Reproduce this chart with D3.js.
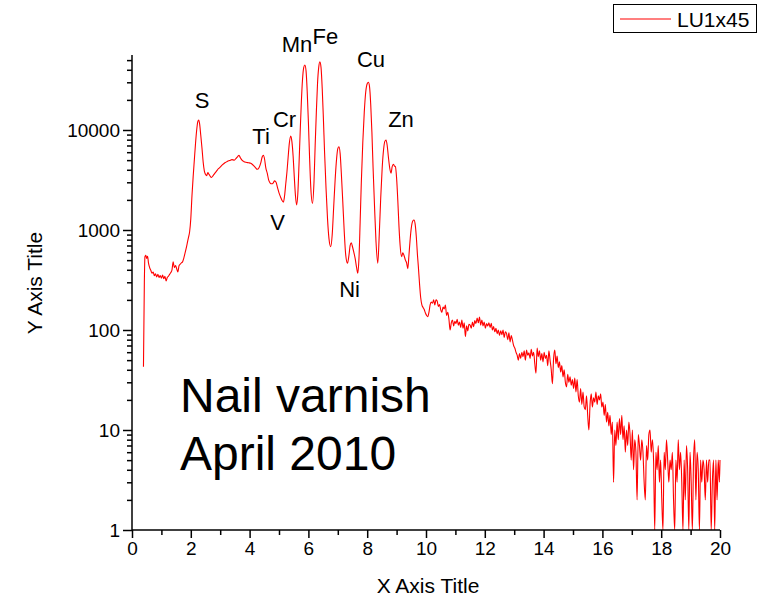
<!DOCTYPE html>
<html>
<head>
<meta charset="utf-8">
<script src="https://cdn.jsdelivr.net/npm/d3@7"></script>
<style>
    body { margin: 0; background: #fff; }
    text { font-family: "Liberation Sans", Arial, sans-serif; fill: #000; }
</style>
</head>
<body>
<div id="chart"></div>
<script>
// spectrum, [energy keV, counts]
const lowBand = [
    [0.39, 43], [0.42, 300], [0.44, 540], [0.47, 560], [0.50, 520], [0.53, 545], [0.56, 470],
    [0.60, 420], [0.64, 395], [0.68, 370], [0.72, 380], [0.76, 350], [0.80, 365], [0.84, 340],
    [0.88, 360], [0.92, 335], [0.96, 350], [1.00, 330], [1.04, 355], [1.08, 325], [1.12, 345],
    [1.16, 310], [1.20, 335], [1.24, 345], [1.28, 360], [1.32, 375], [1.36, 400], [1.40, 480],
    [1.44, 420], [1.48, 440], [1.52, 410], [1.56, 380], [1.60, 440], [1.64, 455], [1.68, 470],
    [1.72, 480], [1.76, 520], [1.80, 580], [1.84, 650], [1.88, 740], [1.92, 840], [1.96, 960]
];

const peakBand = [
    [2.00, 1300], [2.04, 2200], [2.08, 3400], [2.12, 5000], [2.16, 7300], [2.20, 10000],
    [2.24, 12200], [2.27, 12600], [2.30, 11500], [2.34, 8800], [2.38, 6600], [2.42, 4800],
    [2.46, 3900], [2.50, 3600], [2.54, 3500], [2.58, 3750], [2.62, 3600], [2.66, 3450],
    [2.70, 3350], [2.76, 3500], [2.82, 3700], [2.88, 3900], [2.94, 4100], [3.00, 4250],
    [3.08, 4500], [3.16, 4700], [3.24, 4850], [3.32, 4950], [3.40, 5050], [3.48, 5000],
    [3.54, 5200], [3.60, 5450], [3.64, 5600], [3.68, 5300], [3.74, 5000], [3.80, 4850],
    [3.88, 4750], [3.96, 4700], [4.04, 4650], [4.12, 4450], [4.20, 4200], [4.26, 4050],
    [4.32, 4200], [4.38, 4700], [4.43, 5400], [4.47, 5600], [4.51, 5100], [4.55, 4200],
    [4.60, 3700], [4.65, 3150], [4.70, 2950], [4.75, 2900], [4.80, 2950], [4.85, 3100],
    [4.90, 3000], [4.95, 2650], [5.00, 2350], [5.05, 2150], [5.10, 1980], [5.15, 1900],
    [5.19, 2200], [5.23, 2900], [5.27, 3800], [5.31, 5300], [5.35, 7300], [5.40, 8700],
    [5.44, 7600], [5.48, 5500], [5.52, 3400], [5.56, 2200], [5.60, 1780], [5.64, 2300],
    [5.68, 4500], [5.72, 9500], [5.76, 19000], [5.80, 32000], [5.84, 42000], [5.88, 44700],
    [5.92, 39000], [5.96, 24000], [6.00, 12000], [6.04, 5300], [6.08, 2700], [6.14, 1850],
    [6.19, 3000], [6.23, 7000], [6.27, 15000], [6.31, 29000], [6.35, 42000], [6.39, 48000],
    [6.43, 42000], [6.47, 26000], [6.51, 13000], [6.55, 6000], [6.60, 2600], [6.65, 1300],
    [6.70, 820], [6.76, 680], [6.81, 900], [6.86, 1700], [6.91, 3200], [6.96, 5200],
    [7.00, 6500], [7.04, 6800], [7.08, 5800], [7.12, 3700], [7.17, 1900], [7.22, 950],
    [7.27, 560], [7.33, 465], [7.38, 560], [7.42, 700], [7.46, 745], [7.50, 680],
    [7.55, 590], [7.59, 520], [7.64, 420], [7.68, 370], [7.72, 520], [7.76, 1200],
    [7.80, 3000], [7.85, 7500], [7.90, 15000], [7.95, 24000], [8.00, 29000], [8.04, 30000],
    [8.08, 27000], [8.12, 18000], [8.16, 9500], [8.20, 4200], [8.25, 1700], [8.30, 760],
    [8.36, 465], [8.41, 900], [8.46, 2100], [8.51, 4200], [8.56, 6500], [8.60, 7700],
    [8.64, 7940], [8.68, 7000], [8.72, 5400], [8.77, 4100], [8.81, 3700], [8.85, 4300],
    [8.89, 4550], [8.93, 4350], [8.96, 4300], [9.00, 3300], [9.04, 2000], [9.08, 1100],
    [9.12, 700], [9.17, 540], [9.21, 590], [9.25, 560], [9.30, 500], [9.34, 470],
    [9.38, 410], [9.42, 560], [9.46, 800], [9.50, 1050], [9.55, 1230], [9.59, 1260],
    [9.63, 1150], [9.67, 860], [9.71, 560], [9.74, 430], [9.78, 290], [9.82, 210],
    [9.86, 178], [9.90, 168], [9.94, 160], [9.98, 148], [10.02, 140], [10.06, 136],
    [10.10, 150], [10.14, 178], [10.18, 190], [10.22, 185], [10.26, 200], [10.30, 178],
    [10.34, 200]
];

const highBand = [
    [10.38, 195], [10.42, 172], [10.46, 180], [10.50, 160], [10.54, 150], [10.58, 170],
    [10.62, 162], [10.66, 178], [10.70, 140], [10.74, 150], [10.78, 128], [10.82, 100],
    [10.86, 118], [10.90, 126], [10.94, 110], [10.98, 122], [11.02, 116], [11.06, 128],
    [11.10, 112], [11.14, 120], [11.18, 106], [11.22, 126], [11.26, 104], [11.30, 118],
    [11.34, 86], [11.38, 110], [11.42, 98], [11.46, 114], [11.50, 112], [11.54, 104],
    [11.58, 120], [11.62, 108], [11.66, 124], [11.70, 116], [11.74, 132], [11.78, 118],
    [11.82, 135], [11.86, 112], [11.90, 126], [11.94, 110], [11.98, 120], [12.02, 104],
    [12.06, 116], [12.10, 110], [12.14, 118], [12.18, 106], [12.22, 117], [12.26, 100],
    [12.30, 108], [12.34, 96], [12.38, 104], [12.42, 92], [12.46, 100], [12.50, 88],
    [12.54, 98], [12.58, 90], [12.62, 100], [12.66, 84], [12.70, 96], [12.74, 92],
    [12.78, 80], [12.82, 94], [12.86, 76], [12.90, 88], [12.94, 79], [12.98, 70],
    [13.02, 66], [13.06, 60], [13.10, 56], [13.14, 50], [13.18, 58], [13.22, 52],
    [13.26, 60], [13.30, 54], [13.34, 62], [13.38, 50], [13.42, 63], [13.46, 56],
    [13.50, 59], [13.54, 52], [13.58, 64], [13.62, 55], [13.66, 60], [13.70, 46],
    [13.74, 37], [13.78, 66], [13.82, 54], [13.86, 62], [13.90, 50], [13.94, 58],
    [13.98, 48], [14.02, 60], [14.06, 52], [14.10, 56], [14.14, 44], [14.18, 62],
    [14.22, 50], [14.26, 40], [14.30, 29], [14.34, 52], [14.38, 63], [14.42, 46],
    [14.46, 55], [14.50, 42], [14.54, 48], [14.58, 38], [14.62, 44], [14.66, 34],
    [14.70, 40], [14.74, 30], [14.78, 27], [14.82, 36], [14.86, 30], [14.90, 34],
    [14.94, 28], [14.98, 32], [15.02, 26], [15.06, 33], [15.10, 24], [15.14, 32],
    [15.18, 22], [15.22, 19], [15.26, 26], [15.30, 18], [15.34, 24], [15.38, 17],
    [15.42, 16], [15.46, 22], [15.50, 14], [15.54, 10], [15.58, 18], [15.62, 23],
    [15.66, 17], [15.70, 21], [15.74, 19], [15.78, 24], [15.82, 18], [15.86, 22],
    [15.90, 20], [15.94, 23], [15.98, 17], [16.02, 19], [16.06, 14], [16.10, 18],
    [16.14, 12], [16.18, 15], [16.22, 11], [16.26, 14], [16.30, 9], [16.34, 12],
    [16.38, 3], [16.42, 10], [16.46, 7], [16.50, 12], [16.54, 8], [16.58, 13],
    [16.62, 9], [16.66, 14], [16.70, 8], [16.74, 11], [16.78, 6], [16.82, 10],
    [16.86, 7], [16.90, 12], [16.94, 9], [16.98, 5], [17.02, 10], [17.06, 4],
    [17.10, 8], [17.14, 6], [17.18, 2], [17.22, 9], [17.26, 7], [17.30, 5],
    [17.34, 8], [17.38, 6], [17.42, 3], [17.46, 2], [17.50, 7], [17.54, 5],
    [17.58, 9], [17.62, 10], [17.66, 6], [17.70, 8], [17.74, 5], [17.78, 1]
];

const tailBand = [
    [17.82, 6], [17.86, 4], [17.90, 7], [17.94, 3], [17.98, 5], [18.02, 2], [18.06, 1],
    [18.10, 6], [18.14, 4], [18.18, 8], [18.22, 5], [18.26, 3], [18.30, 5], [18.34, 4],
    [18.38, 6], [18.42, 2], [18.46, 1], [18.50, 5], [18.54, 3], [18.58, 8], [18.62, 4],
    [18.66, 6], [18.70, 3], [18.74, 1], [18.78, 5], [18.82, 2], [18.86, 7], [18.90, 4],
    [18.94, 1], [18.98, 6], [19.02, 3], [19.06, 1], [19.10, 5], [19.14, 8], [19.18, 2],
    [19.22, 6], [19.26, 4], [19.30, 1], [19.34, 5], [19.38, 3], [19.42, 5], [19.46, 4],
    [19.50, 2], [19.54, 5], [19.58, 3], [19.62, 5], [19.66, 5], [19.70, 1], [19.74, 3],
    [19.78, 5], [19.82, 1], [19.86, 5], [19.90, 2], [19.94, 5], [19.98, 3], [20.00, 5]
];

const xTicks = [0, 2, 4, 6, 8, 10, 12, 14, 16, 18, 20];
const yTicks = [1, 10, 100, 1000, 10000];

// element labels, anchored in data units (energy, counts at label baseline)
const elements = ["S", "Ti", "Cr", "Mn", "Fe", "Cu", "Zn", "V", "Ni"];
const elementEnergy = [2.38, 4.39, 5.19, 5.61, 6.58, 8.13, 9.15, 4.95, 7.40];
const elementCounts = [16600, 7240, 10700, 60300, 72400, 42700, 10700, 1000, 214];

const seriesName = "LU1x45";
const noteLines = ["Nail varnish", "April 2010"];

const W = 763, H = 599;
const svg = d3.select("#chart").append("svg").attr("width", W).attr("height", H);

const x = d3.scaleLinear().domain([0, 20]).range([132, 720]);
const y = d3.scaleLog().domain([1, Math.pow(10, 4.75)]).range([530, 55]);

const spectrum = lowBand.concat(peakBand, highBand, tailBand);

svg.append("clipPath").attr("id", "plot")
    .append("rect").attr("x", 132).attr("y", 50).attr("width", 590).attr("height", 480);

const line = d3.line()
    .x(d => x(d[0]))
    .y(d => y(Math.max(1, d[1])))
    .curve(d3.curveMonotoneX);

svg.append("path")
    .datum(spectrum)
    .attr("clip-path", "url(#plot)")
    .attr("fill", "none")
    .attr("stroke", "#ff0000")
    .attr("stroke-width", 1.1)
    .attr("d", line);

// minor ticks
let yMinor = [];
for (let e = 0; e <= 4; e++) {
    for (let m = 2; m <= 9; m++) {
        let v = m * Math.pow(10, e);
        if (v <= y.domain()[1]) yMinor.push(v);
    }
}
const xMinor = [1, 3, 5, 7, 9, 11, 13, 15, 17, 19];

const yMinorAxis = svg.append("g").attr("transform", "translate(132,0)")
    .call(d3.axisLeft(y).tickValues(yMinor).tickSize(5).tickFormat(""));
const xMinorAxis = svg.append("g").attr("transform", "translate(0,530)")
    .call(d3.axisBottom(x).tickValues(xMinor).tickSize(5).tickFormat(""));

const yAxis = svg.append("g").attr("transform", "translate(132,0)")
    .call(d3.axisLeft(y).tickValues(yTicks).tickSize(9).tickPadding(3).tickFormat(d3.format("d")));
const xAxis = svg.append("g").attr("transform", "translate(0,530)")
    .call(d3.axisBottom(x).tickValues(xTicks).tickSize(8).tickPadding(3));

[yMinorAxis, xMinorAxis].forEach(g => g.select(".domain").remove());
[yMinorAxis, xMinorAxis, yAxis, xAxis].forEach(g => {
    g.selectAll("line").attr("stroke", "#000").attr("stroke-width", 1.5);
    g.select(".domain").attr("stroke", "#000").attr("stroke-width", 1.5);
});
yAxis.select(".domain").attr("d", "M0,530V55");
xAxis.select(".domain").attr("d", "M132,0H720");
[yAxis, xAxis].forEach(g => g.selectAll("text")
    .style("font-family", '"Liberation Sans", Arial, sans-serif')
    .style("font-size", "19px").attr("fill", "#000"));
xAxis.selectAll("text").attr("dy", "0.75em");

// axis titles
svg.append("text")
    .attr("x", 428).attr("y", 593)
    .attr("text-anchor", "middle")
    .style("font-size", "21px")
    .text("X Axis Title");
svg.append("text")
    .attr("transform", "translate(42,283) rotate(-90)")
    .attr("text-anchor", "middle")
    .style("font-size", "21px")
    .text("Y Axis Title");

// element labels
svg.append("g").selectAll("text")
    .data(elements)
    .join("text")
    .attr("x", (d, i) => x(elementEnergy[i]))
    .attr("y", (d, i) => y(elementCounts[i]))
    .attr("text-anchor", "middle")
    .style("font-size", "22px")
    .text(d => d);

// note
svg.append("g").selectAll("text")
    .data(noteLines)
    .join("text")
    .attr("x", 180)
    .attr("y", (d, i) => 412 + i * 58)
    .style("font-size", "48px")
    .text(d => d);

// legend
const legend = svg.append("g");
legend.append("rect")
    .attr("x", 613.5).attr("y", 4.5).attr("width", 143).attr("height", 28)
    .attr("fill", "#fff").attr("stroke", "#000").attr("stroke-width", 1);
legend.append("line")
    .attr("x1", 620).attr("x2", 671).attr("y1", 19).attr("y2", 19)
    .attr("stroke", "#ff0000").attr("stroke-width", 1.1);
legend.append("text")
    .attr("x", 677).attr("y", 27)
    .style("font-size", "21px")
    .text(seriesName);
</script>
</body>
</html>
